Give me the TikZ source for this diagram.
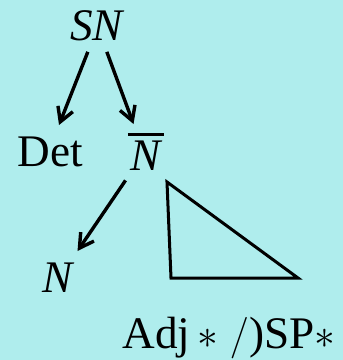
\documentclass[tikz,border=0pt]{standalone}
\usepackage{fontspec}
\setmainfont{Liberation Serif}
\usetikzlibrary{arrows.meta}
\definecolor{bgcyan}{RGB}{175,237,237}

\tikzset{
  lbl/.style={inner sep=0pt,anchor=base west,font=\fontsize{22.6}{27}\selectfont},
  edge/.style={->,line width=1.7pt},
}

\begin{document}
\begin{tikzpicture}[>={Straight Barb[length=7pt,width=8pt,line width=1.7pt]},x=0.5pt,y=-0.5pt]
  \fill[bgcyan] (0,0) rectangle (343,360);
  \useasboundingbox (0,0) rectangle (343,360);
  % labels
  \node[lbl] (sn) at (70,40) {\textit{SN}};
  \node[lbl] (det) at (17,166) {Det};
  \node[lbl] (nbar) at (130,170) {\textit{N}};
  \draw[line width=1.5pt] ([shift={(-2,-6)}]nbar.north west) -- ([shift={(1,-6)}]nbar.north east);
  \node[lbl] (n) at (42,292) {\textit{N}};
  \node[lbl] (adj) at (122,348) {Adj\,$\ast\;/$)SP$\ast$};
  % branches
  \draw[edge] ([shift={(-10,11)}]sn.south) -- ([shift={(9,-11)}]det.north);
  \draw[edge] ([shift={(9,11)}]sn.south) -- ([shift={(-13,-16)}]nbar.north);
  \draw[edge] ([shift={(-21,10)}]nbar.south) -- ([shift={(19,-11)}]n.north);
  % triangle
  \draw[line width=1.5pt] (167,182) -- (171,278) -- (298,278) -- cycle;
\end{tikzpicture}
\end{document}
